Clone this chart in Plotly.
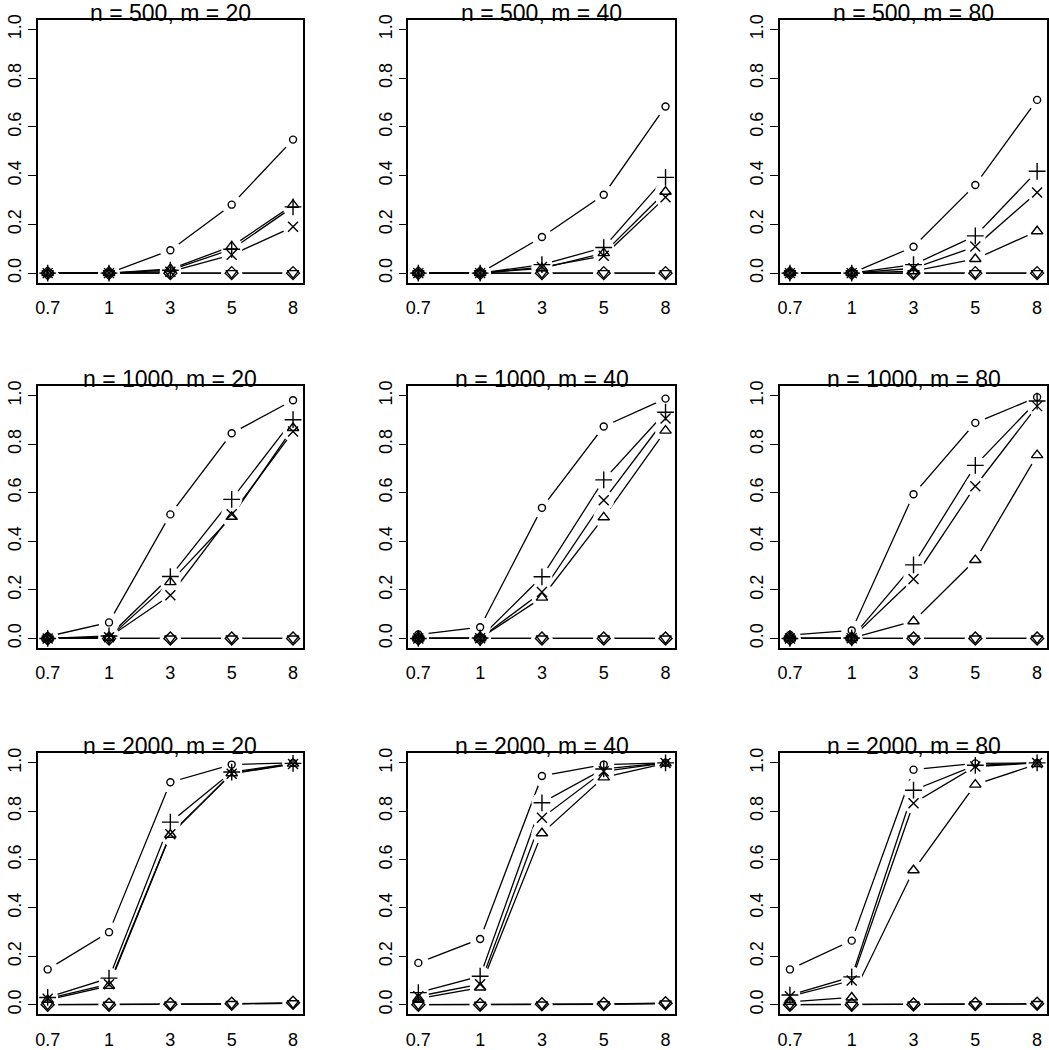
import plotly.graph_objects as go

# ---------------- data ----------------
x_labels = ["0.7", "1", "3", "5", "8"]
panel_titles = [
    "n = 500, m = 20", "n = 500, m = 40", "n = 500, m = 80",
    "n = 1000, m = 20", "n = 1000, m = 40", "n = 1000, m = 80",
    "n = 2000, m = 20", "n = 2000, m = 40", "n = 2000, m = 80",
]
y_ticks = [0.0, 0.2, 0.4, 0.6, 0.8, 1.0]

circle_vals = [
    [0, 0, 0.094, 0.281, 0.548],
    [0, 0, 0.148, 0.322, 0.684],
    [0, 0, 0.108, 0.362, 0.711],
    [0.008, 0.066, 0.511, 0.845, 0.981],
    [0.016, 0.046, 0.538, 0.873, 0.988],
    [0.014, 0.033, 0.594, 0.888, 0.994],
    [0.146, 0.300, 0.920, 0.993, 1.0],
    [0.173, 0.272, 0.946, 0.993, 1.0],
    [0.146, 0.265, 0.972, 0.998, 1.0],
]
triangle_vals = [
    [0, 0, 0.017, 0.110, 0.280],
    [0, 0, 0.020, 0.082, 0.334],
    [0, 0, 0.008, 0.058, 0.172],
    [0, 0.003, 0.232, 0.501, 0.867],
    [0, 0.001, 0.168, 0.499, 0.856],
    [0, 0.001, 0.071, 0.323, 0.755],
    [0.020, 0.078, 0.703, 0.957, 0.997],
    [0.025, 0.071, 0.709, 0.940, 0.998],
    [0.012, 0.030, 0.556, 0.910, 0.995],
]
plus_vals = [
    [0, 0, 0.012, 0.098, 0.272],
    [0, 0, 0.035, 0.105, 0.393],
    [0, 0, 0.035, 0.153, 0.418],
    [0, 0.010, 0.255, 0.573, 0.901],
    [0, 0.002, 0.254, 0.653, 0.932],
    [0, 0.002, 0.303, 0.713, 0.978],
    [0.030, 0.110, 0.755, 0.962, 0.998],
    [0.050, 0.118, 0.835, 0.975, 1.0],
    [0.040, 0.115, 0.887, 0.990, 1.0],
]
cross_vals = [
    [0, 0, 0.006, 0.075, 0.190],
    [0, 0, 0.025, 0.071, 0.311],
    [0, 0, 0.020, 0.109, 0.331],
    [0, 0.005, 0.178, 0.512, 0.852],
    [0, 0.001, 0.191, 0.569, 0.906],
    [0, 0.001, 0.245, 0.627, 0.957],
    [0.025, 0.085, 0.705, 0.955, 0.995],
    [0.035, 0.085, 0.773, 0.965, 1.0],
    [0.035, 0.100, 0.833, 0.985, 1.0],
]
diamond_vals = [
    [0, 0, 0, 0, 0],
    [0, 0, 0, 0, 0],
    [0, 0, 0, 0, 0],
    [0, 0, 0, 0, 0],
    [0, 0, 0, 0, 0],
    [0, 0, 0, 0, 0],
    [0, 0, 0.002, 0.004, 0.008],
    [0, 0, 0.002, 0.003, 0.006],
    [0, 0, 0.001, 0.003, 0.004],
]
tridown_vals = [
    [0, 0, 0, 0, 0],
    [0, 0, 0, 0, 0],
    [0, 0, 0, 0, 0],
    [0, 0, 0, 0, 0],
    [0, 0, 0, 0, 0],
    [0, 0, 0, 0, 0],
    [0, 0, 0.001, 0.003, 0.006],
    [0, 0, 0.001, 0.002, 0.005],
    [0, 0, 0.001, 0.002, 0.003],
]

# ---------------- styles / layout ----------------
series = [
    ("pch 1", circle_vals, "circle-open", 7),
    ("pch 2", triangle_vals, "triangle-up-open", 10),
    ("pch 3", plus_vals, "cross-thin-open", 12),
    ("pch 4", cross_vals, "x-thin-open", 10),
    ("pch 5", diamond_vals, "diamond-open", 10),
    ("pch 6", tridown_vals, "triangle-down-open", 10),
]

W, H = 1049, 1050
col_px = [(35, 301), (407, 675), (780, 1048)]
row_px = [(15, 283), (388, 655), (762, 1028)]
FONT = "Liberation Sans, Arial, sans-serif"

fig = go.Figure()
annotations = []

for i in range(9):
    r, c = divmod(i, 3)
    k = i + 1
    xa, ya = f"x{k}", f"y{k}"
    # connecting lines
    for name, vals, sym, sz in series:
        fig.add_trace(go.Scatter(x=x_labels, y=vals[i], mode="lines",
                                 line=dict(color="black", width=1.3),
                                 xaxis=xa, yaxis=ya, showlegend=False,
                                 hoverinfo="skip"))
    # white halos -> gaps around points (R type = "b")
    for name, vals, sym, sz in series:
        fig.add_trace(go.Scatter(x=x_labels, y=vals[i], mode="markers",
                                 marker=dict(symbol="circle", size=21, color="white",
                                             line=dict(width=0)),
                                 xaxis=xa, yaxis=ya, showlegend=False,
                                 hoverinfo="skip"))
    # point symbols
    for name, vals, sym, sz in series:
        fig.add_trace(go.Scatter(x=x_labels, y=vals[i], mode="markers", name=name,
                                 marker=dict(symbol=sym, size=sz, color="black",
                                             line=dict(width=1.4, color="black")),
                                 xaxis=xa, yaxis=ya, showlegend=False))

    x0, x1 = col_px[c]
    y0, y1 = row_px[r]
    xdom = [x0 / W, x1 / W]
    ydom = [1 - y1 / H, 1 - y0 / H]
    xkey = "xaxis" if k == 1 else f"xaxis{k}"
    ykey = "yaxis" if k == 1 else f"yaxis{k}"
    fig.update_layout(**{
        xkey: dict(domain=xdom, anchor=ya, type="category",
                   categoryorder="array", categoryarray=x_labels,
                   range=[-0.16, 4.16], showgrid=False, zeroline=False,
                   showline=True, linecolor="black", linewidth=1.5, mirror=True,
                   ticks="outside", ticklen=8, tickcolor="rgba(0,0,0,0)",
                   tickfont=dict(family=FONT, size=18, color="black")),
        ykey: dict(domain=ydom, anchor=xa, range=[-0.04, 1.04],
                   tickvals=y_ticks, tickformat=".1f", tickangle=-90,
                   showgrid=False, zeroline=False,
                   showline=True, linecolor="black", linewidth=1.5, mirror=True,
                   ticks="outside", ticklen=8, tickwidth=1.2, tickcolor="black",
                   tickfont=dict(family=FONT, size=18, color="black")),
    })
    annotations.append(dict(text=panel_titles[i], xref="paper", yref="paper",
                            x=(x0 + x1) / 2 / W, y=1 - (y0 - 7) / H,
                            xanchor="center", yanchor="middle", showarrow=False,
                            font=dict(family=FONT, size=23, color="black")))

fig.update_layout(width=W, height=H, autosize=False,
                  margin=dict(l=0, r=0, t=0, b=0),
                  paper_bgcolor="white", plot_bgcolor="white",
                  showlegend=False, annotations=annotations)

fig.write_html("out.html",
               config={"displayModeBar": False},
               post_script="document.body.style.margin='0px';"
                           "document.body.style.overflow='hidden';")
